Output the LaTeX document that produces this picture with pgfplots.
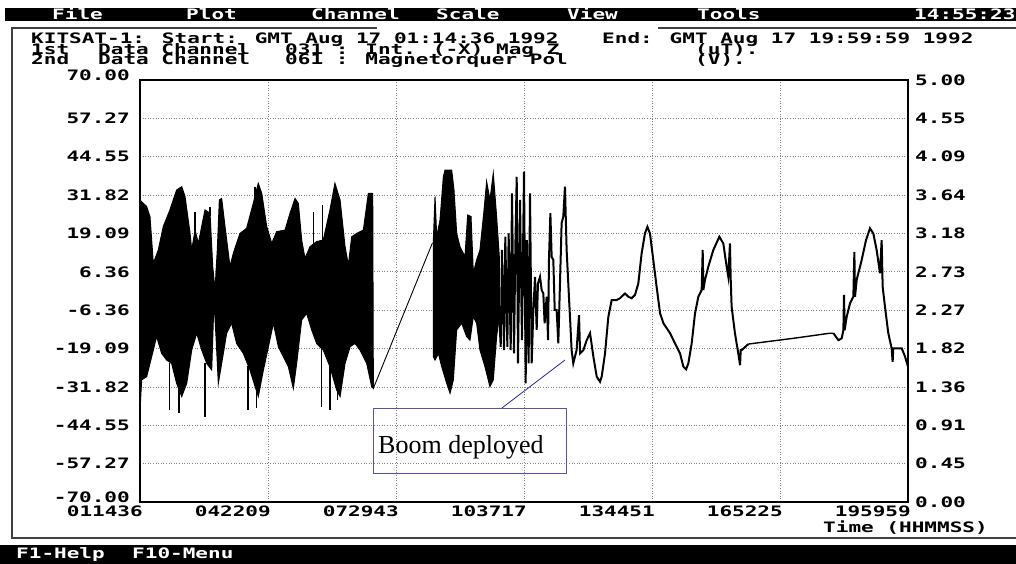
\documentclass[border=0pt]{standalone}
\usepackage{pgfplots}
\pgfplotsset{compat=1.18}
\usepackage{fontspec}
\setmainfont{Liberation Serif}
\newfontfamily\dosfam{DejaVu Sans Mono}[FakeStretch=1.46]
\newcommand\dos{\dosfam\bfseries\fontsize{14.4}{14.4}\selectfont}
\definecolor{gridgray}{RGB}{128,128,128}
\definecolor{boomblue}{RGB}{40,40,150}

\begin{document}
\begin{tikzpicture}[x=1pt,y=-1pt]
\path[use as bounding box, fill=white] (0,0) rectangle (1016,564);

% menu bar and status bar
\fill[black] (5,8) rectangle (1016,21);
\fill[black] (0,545) rectangle (1016,564);
\begin{scope}[every node/.style={anchor=base west, inner sep=0pt, text=white, font=\dos}]
  \node at (52,19.5) {File};
  \node at (186,19.5) {Plot};
  \node at (311,19.5) {Channel};
  \node at (436,19.5) {Scale};
  \node at (567,19.5) {View};
  \node at (697,19.5) {Tools};
  \node at (914,19.5) {14:55:23};
  \node at (16,558) {F1-Help};
  \node at (132,558) {F10-Menu};
\end{scope}

% window frame
\draw[black!75, line width=1.5pt] (377,28) -- (12,28) -- (12,538) -- (1016,538);
\draw[black!75, line width=1.5pt] (658,28) -- (1016,28);

% header text
\begin{scope}[every node/.style={anchor=base west, inner sep=0pt, font=\dos}]
  \node at (31,43.5) {KITSAT-1: Start: GMT Aug 17 01:14:36 1992};
  \node at (602,43.5) {End: GMT Aug 17 19:59:59 1992};
  \node at (31,54.5) {1st};
  \node at (98,54.5) {Data Channel};
  \node at (285,54.5) {031 : Int. (-X) Mag Z};
  \node at (695,54.5) {(uT).};
  \node at (31,65) {2nd};
  \node at (98,65) {Data Channel};
  \node at (285,65) {061 : Magnetorquer Pol};
  \node at (695,65) {(V).};
  \node at (823,532) {Time (HHMMSS)};
\end{scope}

% right axis: magnetorquer polarity (V)
\begin{axis}[
    at={(140pt,-502pt)}, anchor=south west,
    width=768pt, height=422pt, scale only axis,
    xmin=0, xmax=6, ymin=0, ymax=5,
    hide x axis, axis y line*=right,
    y axis line style={line width=1.5pt},
    major tick length=0pt,
    ytick={0,0.4545,0.9091,1.3636,1.8182,2.2727,2.7273,3.1818,3.6364,4.0909,4.5455,5},
    yticklabels={0.00,0.45,0.91,1.36,1.82,2.27,2.73,3.18,3.64,4.09,4.55,5.00},
    yticklabel style={font=\dos, anchor=west, inner sep=0pt, xshift=7pt},
]
\end{axis}

% left axis: Int. (-X) Mag Z (uT)
\begin{axis}[
    at={(140pt,-502pt)}, anchor=south west,
    width=768pt, height=422pt, scale only axis,
    xmin=0, xmax=6, ymin=-70, ymax=70,
    axis line style={line width=1.5pt},
    major tick length=0pt,
    xtick={0,1,2,3,4,5,6},
    xticklabels={011436,042209\hspace{-7pt},072943,103717,134451,165225,195959},
    xticklabel style={font=\dos, anchor=north east, inner sep=0pt, xshift=3pt, yshift=-4pt},
    ytick={-57.2727,-44.5455,-31.8182,-19.0909,-6.3636,6.3636,19.0909,31.8182,44.5455,57.2727},
    yticklabels={-57.27,-44.55,-31.82,-19.09,-6.36,6.36,19.09,31.82,44.55,57.27},
    extra y ticks={-70,70},
    extra y tick labels={-70.00,70.00},
    extra y tick style={grid=none, yticklabel style={yshift=5pt}},
    yticklabel style={font=\dos, anchor=east, inner sep=0pt, xshift=-10pt},
    grid=major,
    grid style={gridgray, line width=0.8pt, dash pattern=on 1pt off 1.6pt},
    unbounded coords=jump,
]
% first fast-spin stretch: envelope of the oscillation
\addplot[draw=black, fill=black, line width=1pt] coordinates {
  (0,30.2) (0.052,28.0) (0.078,24.7) (0.104,9.2) (0.143,13.6) (0.182,21.4)
  (0.234,26.9) (0.286,33.5) (0.326,34.6) (0.352,31.3) (0.391,19.1) (0.404,13.6)
  (0.430,20.2) (0.456,15.8) (0.482,21.4) (0.508,26.9) (0.547,25.8) (0.568,8.1)
  (0.586,0.4) (0.604,13.6) (0.620,30.2) (0.638,30.7) (0.664,21.4) (0.703,8.1)
  (0.729,12.5) (0.781,19.1) (0.833,20.8) (0.885,29.1) (0.924,35.7) (0.951,32.4)
  (0.990,21.4) (1.029,15.8) (1.068,19.7) (1.133,20.2) (1.172,25.8) (1.211,30.7)
  (1.237,29.1) (1.263,16.9) (1.289,10.8) (1.328,14.7) (1.380,16.4) (1.432,16.9)
  (1.484,26.9) (1.523,35.7) (1.563,30.2) (1.602,14.7) (1.628,8.6) (1.654,18.0)
  (1.693,19.1) (1.745,20.2) (1.784,32.4) (1.818,32.4)
  (1.823,-32.3) (1.810,-31.7) (1.771,-24.0) (1.719,-19.6) (1.680,-17.4) (1.641,-18.5)
  (1.602,-24.0) (1.563,-35.0) (1.536,-32.8) (1.484,-25.1) (1.432,-19.6) (1.380,-17.4)
  (1.341,-12.9) (1.302,-7.4) (1.263,-9.6) (1.224,-24.0) (1.198,-32.3) (1.159,-25.1)
  (1.120,-21.8) (1.081,-18.5) (1.042,-10.7) (1.003,-18.5) (0.964,-26.2) (0.924,-35.0)
  (0.859,-26.2) (0.807,-20.7) (0.755,-17.4) (0.716,-10.7) (0.677,-14.0) (0.638,-24.0)
  (0.612,-30.6) (0.594,-15.1) (0.578,-3.0) (0.560,-26.2) (0.521,-24.0) (0.482,-19.6)
  (0.443,-14.0) (0.404,-19.6) (0.365,-30.6) (0.326,-35.0) (0.286,-30.6) (0.247,-24.0)
  (0.208,-22.9) (0.169,-20.7) (0.130,-15.1) (0.091,-21.8) (0.052,-28.4) (0.013,-29.5)
  (0,-39.5)
} -- cycle;
% isolated spikes beyond the envelope
\addplot[black, line width=1.6pt] coordinates {
  (0.229,-24) (0.229,-39.5) (0.229,nan)
  (0.305,-30) (0.305,-40.6) (0.305,nan)
  (0.508,-24) (0.508,-41.7) (0.508,nan)
  (0.846,-25) (0.846,-39.5) (0.846,nan)
  (0.911,-30) (0.911,-38.9) (0.911,nan)
  (1.419,-19) (1.419,-38.4) (1.419,nan)
  (1.484,-25) (1.484,-39.5) (1.484,nan)
  (1.542,-33) (1.542,-36.2) (1.542,nan)
  (0.430,20) (0.430,26.3) (0.430,nan)
  (0.547,25) (0.547,28.0) (0.547,nan)
  (0.898,28) (0.898,34.6) (0.898,nan)
  (1.354,14) (1.354,26.3) (1.354,nan)
  (1.427,16) (1.427,28.5)
};
% data gap
\addplot[black, line width=0.9pt] coordinates {(1.823,-32.3) (2.285,16.0)};
% second fast-spin stretch
\addplot[draw=black, fill=black, line width=1pt] coordinates {
  (2.292,16.9) (2.305,31.3) (2.318,18.0) (2.344,23.6) (2.370,37.9) (2.383,40.1)
  (2.435,40.1) (2.453,33.5) (2.474,19.1) (2.500,14.7) (2.539,11.4) (2.560,25.2)
  (2.586,24.7) (2.604,5.9) (2.630,10.3) (2.656,13.6) (2.688,26.9) (2.708,36.3)
  (2.734,30.2) (2.760,39.0) (2.786,24.7) (2.807,11.4)
  (2.807,-8.5) (2.786,-15.1) (2.760,-29.5) (2.734,-31.7) (2.695,-25.1) (2.656,-19.6)
  (2.630,-10.7) (2.604,-8.5) (2.578,-16.3) (2.552,-15.1) (2.513,-10.7) (2.474,-12.9)
  (2.448,-29.5) (2.422,-33.9) (2.396,-30.6) (2.357,-25.1) (2.331,-20.7) (2.305,-22.9)
  (2.292,-21.8)
} -- cycle;
% slowing down, then boom deployed
\addplot[black, line width=2pt] coordinates {
  (2.807,-8.5) (2.818,-18.5) (2.828,13.6) (2.844,-19.6) (2.854,18.0) (2.870,-18.5)
  (2.880,19.1) (2.896,-19.6) (2.906,32.4) (2.922,-20.7) (2.932,13.6) (2.943,37.9)
  (2.953,-24.0) (2.969,30.2) (2.984,-16.3) (3.000,39.6) (3.013,-30.6) (3.023,16.9)
  (3.036,-24.0) (3.047,32.4) (3.060,-24.0) (3.073,-6.3) (3.086,4.7) (3.099,-12.9)
  (3.109,2.5) (3.125,4.7) (3.138,0.3) (3.151,-0.8) (3.161,-10.7) (3.177,-1.9)
  (3.188,-16.3) (3.195,10.3) (3.206,25.8) (3.216,11.4) (3.229,10.3) (3.240,-6.3)
  (3.255,-6.3) (3.268,-17.4) (3.281,2.5) (3.294,22.5) (3.307,24.7) (3.320,34.6)
  (3.333,13.6) (3.346,2.5) (3.359,-8.5) (3.372,-19.6) (3.385,-24.0) (3.398,-21.8)
  (3.411,-19.6) (3.430,-8.0) (3.438,-20.7) (3.464,-19.6) (3.490,-16.3) (3.516,-14.0)
  (3.542,-21.8) (3.568,-28.4) (3.594,-30.1) (3.607,-28.4) (3.633,-20.7) (3.659,-8.5)
  (3.685,-3.0) (3.724,-3.0) (3.750,-2.4) (3.789,-0.8) (3.815,-1.9) (3.841,-2.4)
  (3.867,-1.3) (3.893,2.5) (3.919,12.5) (3.945,19.1) (3.964,21.3) (3.984,19.1)
  (4.010,10.3) (4.036,1.4) (4.063,-7.4) (4.089,-10.7) (4.141,-14.0) (4.180,-17.4)
  (4.219,-20.7) (4.245,-25.1) (4.266,-26.0) (4.284,-24.0) (4.310,-17.4) (4.336,-7.4)
  (4.362,-1.9) (4.388,0.3) (4.396,13.6) (4.401,0.3) (4.414,3.7) (4.440,8.1)
  (4.479,13.6) (4.526,18.0) (4.557,15.8) (4.583,8.1) (4.596,4.8) (4.609,15.8)
  (4.615,3.7) (4.622,-5.2) (4.648,-14.0) (4.674,-20.7) (4.688,-24.6) (4.693,-19.6)
  (4.701,-19.6) (4.753,-17.6)
};
\addplot[black, line width=1.4pt] coordinates {
  (4.753,-17.6) (4.844,-17.1) (5.104,-15.7) (5.391,-14.0) (5.417,-14.0)
};
\addplot[black, line width=2pt] coordinates {
  (5.417,-14.0) (5.456,-16.3) (5.482,-15.7) (5.495,-13.0) (5.500,-1.3) (5.505,-13.0)
  (5.521,-8.5) (5.547,-4.1) (5.573,-1.9) (5.581,13.0) (5.586,-1.9) (5.599,3.7)
  (5.638,10.3) (5.672,16.9) (5.703,20.8) (5.729,19.1) (5.755,13.6) (5.781,5.9)
  (5.794,16.9) (5.802,1.4) (5.820,-5.2) (5.846,-14.0) (5.872,-19.0) (5.880,-23.5)
  (5.885,-19.0) (5.911,-19.0) (5.951,-19.0) (5.977,-21.8) (6.000,-25.1)
};
% annotation pointer
\draw[boomblue, line width=0.8pt] (axis cs:2.828,-38.8) -- (axis cs:3.320,-22.9);
\end{axis}

% annotation box
\draw[boomblue!80, line width=0.8pt] (373,408) rectangle (566,473);
\node[anchor=base west, inner sep=0pt, font=\fontsize{26}{26}\selectfont] at (378,453) {Boom deployed};
\end{tikzpicture}
\end{document}
